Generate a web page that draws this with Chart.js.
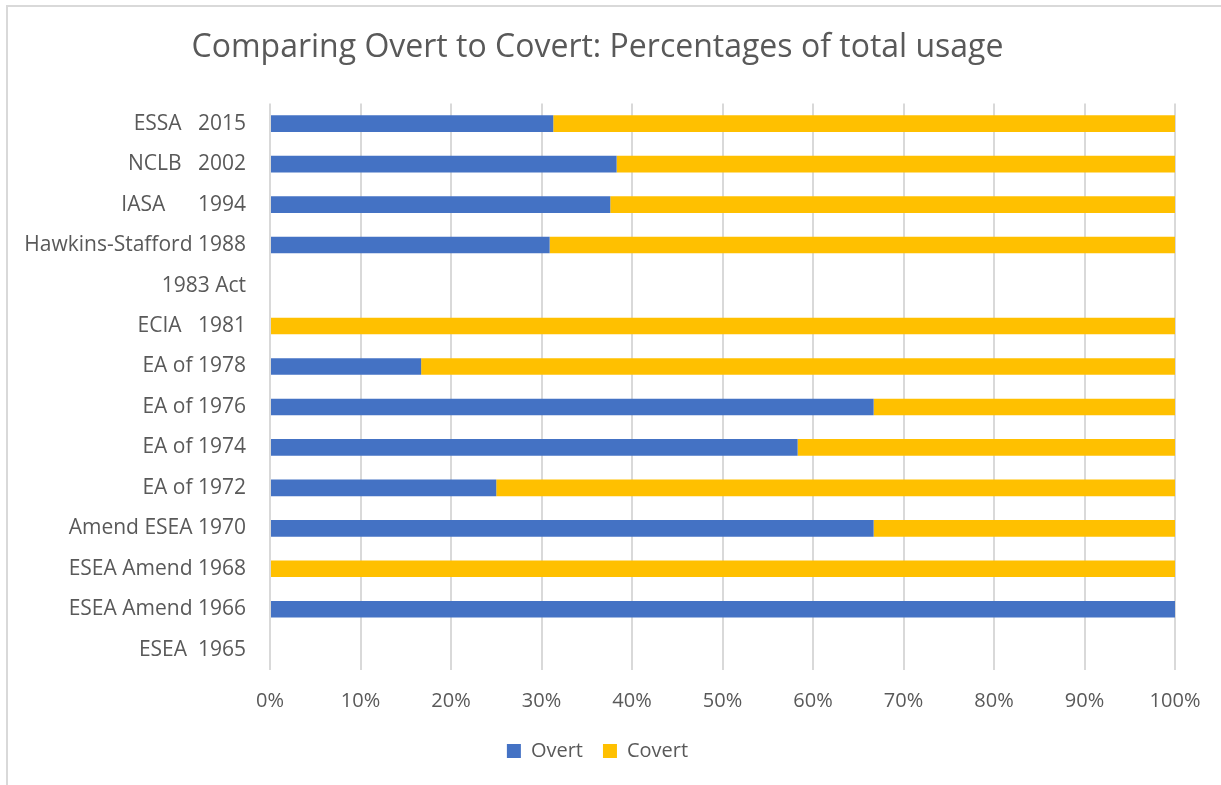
<!DOCTYPE html>
<html>
<head>
<meta charset="utf-8">
<script src="https://cdn.jsdelivr.net/npm/chart.js@4"></script>
<style>
  html, body { margin: 0; padding: 0; background: #fff; }
  #wrap { position: relative; width: 1221px; height: 785px; overflow: hidden; }
  #frame { position: absolute; left: 6px; top: 5px; width: 1300px; height: 900px; border: 2px solid #d9d9d9; box-sizing: border-box; }
  #box { position: absolute; left: 0; top: 0; width: 1221px; height: 785px; }
</style>
</head>
<body>
<div id="wrap">
  <div id="frame"></div>
  <div id="box"><canvas id="myChart"></canvas></div>
</div>
<script>
const chart_title = 'Comparing Overt to Covert: Percentages of total usage';
const acts = [
    'ESSA   2015',
    'NCLB   2002',
    'IASA      1994',
    'Hawkins-Stafford 1988',
    '1983 Act',
    'ECIA   1981',
    'EA of 1978',
    'EA of 1976',
    'EA of 1974',
    'EA of 1972',
    'Amend ESEA 1970',
    'ESEA Amend 1968',
    'ESEA Amend 1966',
    'ESEA  1965'
];
const overt_pct = [31.3, 38.3, 37.6, 30.9, 0, 0, 16.7, 66.7, 58.3, 25, 66.7, 0, 100, 0];
const covert_pct = [68.7, 61.7, 62.4, 69.1, 0, 100, 83.3, 33.3, 41.7, 75, 33.3, 100, 0, 0];
const x_ticks = [0, 10, 20, 30, 40, 50, 60, 70, 80, 90, 100];

const font_name = '"Open Sans", sans-serif';
const text_color = '#595959';
const grid_color = '#d9d9d9';

function draw_chart() {
    const ctx = document.getElementById('myChart');
    new Chart(ctx, {
        type: 'bar',
        data: {
            labels: acts,
            datasets: [{
                label: 'Overt',
                data: overt_pct,
                backgroundColor: '#4472c4',
                borderWidth: 0
            }, {
                label: 'Covert',
                data: covert_pct,
                backgroundColor: '#ffc000',
                borderWidth: 0
            }]
        },
        options: {
            indexAxis: 'y',
            responsive: true,
            maintainAspectRatio: false,
            animation: false,
            categoryPercentage: 1,
            barPercentage: 0.41,
            layout: {
                padding: { left: 20, right: 46, top: 14, bottom: 14 }
            },
            plugins: {
                legend: {
                    position: 'bottom',
                    labels: {
                        color: text_color,
                        font: { family: font_name, size: 20 },
                        boxWidth: 14,
                        boxHeight: 14,
                        padding: 20
                    }
                },
                title: {
                    display: true,
                    text: chart_title,
                    color: text_color,
                    font: { family: font_name, size: 32, weight: 'normal' },
                    padding: { top: 15, bottom: 36 }
                },
                tooltip: { enabled: false }
            },
            scales: {
                x: {
                    stacked: true,
                    min: 0,
                    max: 100,
                    afterBuildTicks: function(scale) {
                        scale.ticks = x_ticks.map(v => ({ value: v }));
                    },
                    afterFit: function(scale) {
                        // let the layout padding decide the side margins
                        scale.paddingLeft = 0;
                        scale.paddingRight = 0;
                        // wider legend padding eats into this space instead
                        scale.height = scale.height - 11;
                    },
                    grid: {
                        color: grid_color,
                        lineWidth: 2,
                        drawTicks: false
                    },
                    border: { display: false },
                    ticks: {
                        color: text_color,
                        font: { family: font_name, size: 20 },
                        padding: 19,
                        callback: function(value) {
                            return value + '%';
                        }
                    }
                },
                y: {
                    stacked: true,
                    afterFit: function(scale) {
                        scale.width = 250;
                    },
                    grid: { display: false, drawTicks: false },
                    border: { display: false },
                    ticks: {
                        color: text_color,
                        font: { family: font_name, size: 21 },
                        padding: 24
                    }
                }
            }
        }
    });
}
draw_chart();
</script>
</body>
</html>
